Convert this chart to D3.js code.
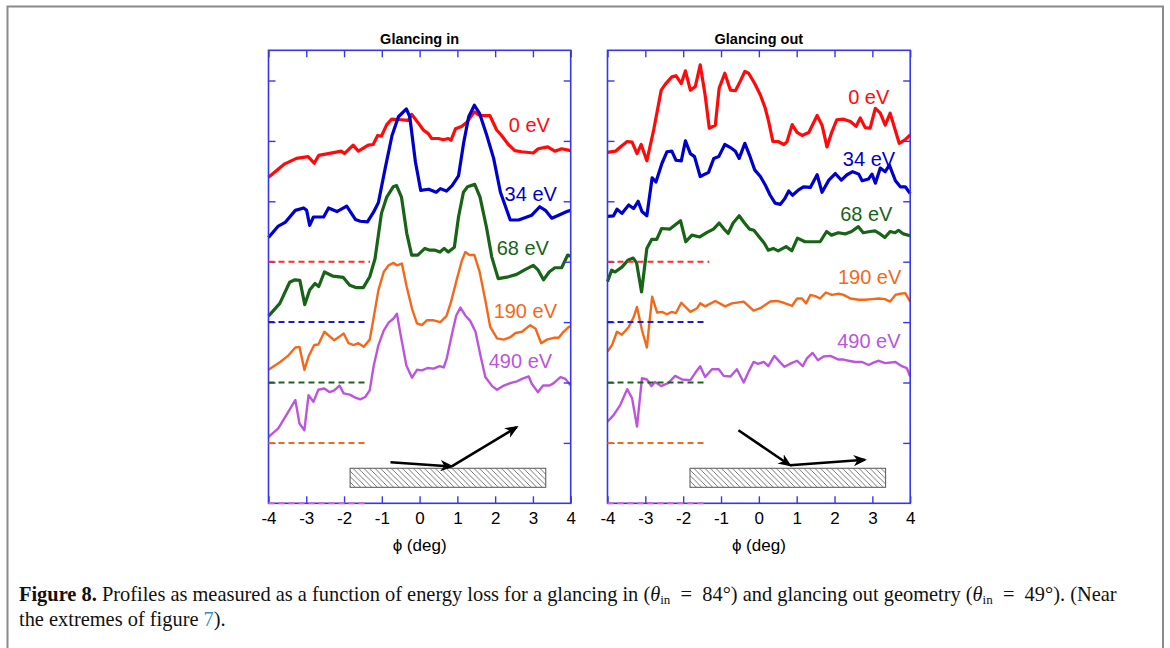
<!DOCTYPE html>
<html><head><meta charset="utf-8">
<script src="https://cdn.jsdelivr.net/npm/d3@7"></script>
<style>
html,body{margin:0;padding:0;background:#fff;}
#wrap{position:relative;width:1170px;height:648px;overflow:hidden;}
#cap{position:absolute;left:19px;top:582px;font-family:"Liberation Serif","DejaVu Serif",serif;font-size:20.4px;line-height:25px;color:#111;white-space:nowrap;}
#cap b{font-weight:bold;}
#cap sub{font-size:13px;vertical-align:-3px;line-height:0;}
#cap .lnk{color:#2f8fd0;}
</style></head>
<body><div id="wrap"><svg id="chart" width="1170" height="648"></svg>
<div id="cap"><b>Figure 8.</b> Profiles as measured as a function of energy loss for a glancing in (<i>θ</i><sub>in</sub> &nbsp;=&nbsp; 84°) and glancing out geometry (<i>θ</i><sub>in</sub> &nbsp;=&nbsp; 49°). (Near<br>the extremes of figure <span class="lnk">7</span>).</div>
</div>
<script>
// ---------- DATA (phi in deg, offset intensity as plotted) ----------
const energies = ["0 eV","34 eV","68 eV","190 eV","490 eV"];
const colors = ["#ff0a0a","#0000cc","#176417","#f4681a","#bb55dd"];
const dashColors = ["#ff2a2a","#1a1acc","#1a641a","#f4681a","#d866cc"];
const baselines = [4,3,2,1,0];
const lineWidths = [3.2,3.2,3.2,2.4,2.4];
const xTicks = [-4,-3,-2,-1,0,1,2,3,4];
const yTicks = [1,2,3,4,5,6,7];
const panelTitles = ["Glancing in","Glancing out"];
const xLabel = "ϕ (deg)";

const inE0 = [[-4.0,5.40],[-3.57,5.62],[-3.26,5.71],[-2.95,5.74],[-2.79,5.63],[-2.67,5.76],[-2.42,5.79],[-2.07,5.83],[-1.99,5.79],[-1.76,5.93],[-1.62,5.83],[-1.36,5.93],[-1.23,5.94],[-1.11,6.09],[-1.01,6.08],[-0.87,6.27],[-0.74,6.36],[-0.48,6.35],[-0.30,6.34],[-0.21,6.44],[-0.05,6.31],[0.10,6.18],[0.23,6.12],[0.32,6.04],[0.50,6.04],[0.63,6.02],[0.76,6.04],[0.83,6.01],[0.95,6.20],[1.11,6.24],[1.25,6.31],[1.45,6.48],[1.60,6.42],[1.86,6.42],[2.04,6.18],[2.17,6.09],[2.35,5.94],[2.52,5.84],[2.70,5.82],[3.01,5.80],[3.14,5.87],[3.39,5.90],[3.58,5.83],[3.76,5.87],[4.0,5.84]];
const inE34 = [[-4.0,4.40],[-3.74,4.59],[-3.56,4.65],[-3.29,4.85],[-3.07,4.89],[-2.99,4.85],[-2.91,4.60],[-2.81,4.74],[-2.54,4.74],[-2.41,4.89],[-2.19,4.83],[-1.93,4.92],[-1.70,4.70],[-1.57,4.67],[-1.38,4.66],[-1.22,4.82],[-1.09,4.98],[-0.91,5.55],[-0.73,6.09],[-0.56,6.40],[-0.35,6.53],[-0.26,6.40],[-0.11,5.65],[0.03,5.18],[0.24,5.20],[0.44,5.15],[0.55,5.21],[0.71,5.17],[0.86,5.26],[1.03,5.42],[1.17,5.98],[1.30,6.40],[1.45,6.59],[1.59,6.45],[1.78,6.09],[1.96,5.71],[2.14,5.15],[2.40,4.69],[2.62,4.69],[2.84,4.74],[2.97,4.77],[3.18,4.91],[3.33,4.85],[3.50,4.72],[3.68,4.77],[3.90,4.83],[4.0,4.85]];
const inE68 = [[-4.0,3.10],[-3.70,3.31],[-3.44,3.66],[-3.30,3.70],[-3.17,3.69],[-3.04,3.29],[-2.91,3.53],[-2.77,3.64],[-2.67,3.59],[-2.52,3.83],[-2.29,3.76],[-2.02,3.74],[-1.85,3.61],[-1.67,3.57],[-1.49,3.57],[-1.32,3.75],[-1.18,4.05],[-1.01,4.80],[-0.87,5.07],[-0.70,5.24],[-0.61,5.26],[-0.48,5.07],[-0.34,4.47],[-0.21,4.11],[-0.05,4.11],[0.14,4.22],[0.27,4.19],[0.41,4.19],[0.54,4.16],[0.65,4.22],[0.76,4.16],[0.92,4.24],[1.03,4.74],[1.16,5.15],[1.27,5.24],[1.46,5.28],[1.60,5.07],[1.77,4.57],[1.91,4.08],[2.08,3.72],[2.35,3.75],[2.57,3.79],[2.79,3.87],[3.01,3.94],[3.14,3.86],[3.28,3.70],[3.43,3.83],[3.58,3.90],[3.76,3.90],[3.92,4.11],[4.0,4.09]];
const inE190 = [[-4.0,2.21],[-3.69,2.34],[-3.47,2.45],[-3.29,2.58],[-3.18,2.59],[-3.05,2.21],[-2.94,2.43],[-2.79,2.62],[-2.68,2.63],[-2.52,2.84],[-2.41,2.78],[-2.26,2.70],[-2.12,2.76],[-2.01,2.81],[-1.88,2.65],[-1.75,2.62],[-1.62,2.65],[-1.48,2.59],[-1.32,2.71],[-1.22,3.06],[-1.09,3.53],[-0.95,3.83],[-0.82,3.94],[-0.69,3.98],[-0.60,3.94],[-0.47,3.97],[-0.34,3.58],[-0.20,3.22],[-0.07,2.98],[0.06,2.95],[0.19,3.03],[0.37,3.03],[0.55,3.00],[0.71,3.10],[0.83,3.33],[0.99,3.72],[1.12,4.02],[1.21,4.16],[1.32,4.11],[1.45,4.11],[1.59,3.83],[1.74,3.36],[1.87,2.92],[2.05,2.73],[2.23,2.71],[2.40,2.75],[2.54,2.82],[2.71,2.84],[2.93,2.95],[3.07,2.89],[3.22,2.65],[3.37,2.71],[3.55,2.74],[3.68,2.74],[3.81,2.84],[3.95,2.92],[4.0,2.93]];
const inE490 = [[-4.0,1.10],[-3.74,1.24],[-3.50,1.49],[-3.29,1.71],[-3.18,1.32],[-3.05,1.21],[-2.94,1.79],[-2.81,1.68],[-2.68,1.88],[-2.52,1.90],[-2.38,1.84],[-2.26,1.87],[-2.12,1.95],[-2.01,1.82],[-1.85,1.80],[-1.70,1.75],[-1.57,1.72],[-1.44,1.76],[-1.32,1.87],[-1.22,2.26],[-1.09,2.62],[-0.95,2.86],[-0.82,2.99],[-0.69,3.06],[-0.60,3.14],[-0.50,2.78],[-0.35,2.28],[-0.20,2.08],[-0.07,2.21],[0.06,2.20],[0.21,2.24],[0.37,2.23],[0.53,2.27],[0.64,2.25],[0.72,2.40],[0.86,2.81],[0.97,3.11],[1.08,3.24],[1.21,3.11],[1.34,3.02],[1.48,2.84],[1.61,2.45],[1.74,2.09],[1.92,1.94],[2.05,1.88],[2.23,1.95],[2.40,1.99],[2.58,2.02],[2.71,2.06],[2.89,2.10],[2.97,1.98],[3.13,1.84],[3.27,1.95],[3.44,1.95],[3.55,1.99],[3.73,2.09],[3.86,2.06],[4.0,1.95]];

const outE0 = [[-4.0,5.81],[-3.79,5.83],[-3.66,5.90],[-3.48,5.99],[-3.35,5.98],[-3.22,5.79],[-3.11,5.94],[-2.96,5.67],[-2.78,6.18],[-2.58,6.84],[-2.47,6.94],[-2.30,7.06],[-2.19,7.08],[-2.05,6.95],[-1.94,7.16],[-1.81,6.84],[-1.68,6.90],[-1.55,7.26],[-1.42,6.76],[-1.31,6.21],[-1.15,6.26],[-1.05,6.87],[-0.90,7.12],[-0.75,6.84],[-0.62,6.83],[-0.49,6.99],[-0.37,7.15],[-0.27,7.12],[-0.11,6.95],[0.04,6.76],[0.17,6.54],[0.26,6.32],[0.37,5.99],[0.51,5.99],[0.66,5.94],[0.74,5.98],[0.88,6.27],[1.01,6.14],[1.14,6.09],[1.32,6.14],[1.54,6.42],[1.67,6.26],[1.80,5.90],[1.93,6.15],[2.06,6.35],[2.24,6.36],[2.42,6.32],[2.57,6.24],[2.68,6.38],[2.81,6.22],[2.94,6.21],[3.08,6.54],[3.21,6.46],[3.34,6.26],[3.47,6.46],[3.59,6.21],[3.71,5.96],[3.87,6.02],[4.0,6.10]];
const outE34 = [[-4.0,4.75],[-3.84,4.76],[-3.75,4.87],[-3.62,4.80],[-3.44,4.94],[-3.31,4.88],[-3.19,5.00],[-3.09,4.83],[-2.96,4.76],[-2.82,5.39],[-2.72,5.32],[-2.56,5.63],[-2.43,5.82],[-2.30,5.83],[-2.19,5.68],[-2.05,5.67],[-1.94,6.00],[-1.81,5.79],[-1.70,5.74],[-1.55,5.41],[-1.33,5.48],[-1.19,5.71],[-1.06,5.74],[-0.90,5.94],[-0.75,5.89],[-0.62,5.83],[-0.52,5.71],[-0.37,5.96],[-0.25,5.77],[-0.11,5.52],[0.04,5.41],[0.17,5.27],[0.30,5.10],[0.43,4.97],[0.57,4.95],[0.68,5.04],[0.79,5.17],[0.89,5.10],[1.05,5.19],[1.18,5.24],[1.36,5.23],[1.54,5.44],[1.67,5.15],[1.85,5.35],[2.02,5.46],[2.18,5.35],[2.33,5.44],[2.48,5.49],[2.64,5.45],[2.73,5.34],[2.90,5.37],[2.99,5.45],[3.08,5.30],[3.21,5.55],[3.34,5.49],[3.45,5.60],[3.61,5.34],[3.74,5.24],[3.87,5.24],[4.0,5.13]];
const outE68 = [[-4.0,3.67],[-3.89,3.86],[-3.80,3.83],[-3.62,3.91],[-3.45,4.03],[-3.32,4.06],[-3.23,3.98],[-3.10,3.50],[-2.96,4.22],[-2.83,4.37],[-2.70,4.37],[-2.57,4.55],[-2.35,4.54],[-2.19,4.62],[-2.07,4.68],[-1.93,4.33],[-1.77,4.44],[-1.56,4.41],[-1.38,4.48],[-1.20,4.54],[-1.05,4.64],[-0.92,4.54],[-0.81,4.47],[-0.68,4.64],[-0.52,4.76],[-0.39,4.65],[-0.25,4.54],[-0.13,4.52],[0.01,4.41],[0.14,4.31],[0.25,4.19],[0.38,4.22],[0.51,4.18],[0.72,4.25],[0.87,4.18],[1.02,4.39],[1.22,4.33],[1.44,4.33],[1.62,4.33],[1.79,4.50],[1.92,4.44],[2.10,4.48],[2.28,4.46],[2.45,4.50],[2.63,4.58],[2.76,4.48],[2.94,4.50],[3.07,4.51],[3.18,4.47],[3.33,4.40],[3.47,4.50],[3.60,4.48],[3.69,4.52],[3.82,4.46],[4.0,4.43]];
const outE190 = [[-4.0,2.51],[-3.88,2.62],[-3.75,2.84],[-3.62,2.79],[-3.44,2.92],[-3.31,3.08],[-3.22,3.25],[-3.09,2.87],[-2.96,2.58],[-2.82,3.42],[-2.69,3.16],[-2.56,3.17],[-2.43,3.13],[-2.30,3.17],[-2.19,3.15],[-2.05,3.32],[-1.81,3.17],[-1.63,3.23],[-1.55,3.31],[-1.42,3.26],[-1.15,3.35],[-0.89,3.26],[-0.71,3.31],[-0.40,3.34],[-0.14,3.19],[0.04,3.23],[0.30,3.34],[0.48,3.35],[0.66,3.32],[0.88,3.27],[1.01,3.39],[1.14,3.39],[1.25,3.31],[1.36,3.45],[1.49,3.43],[1.62,3.39],[1.77,3.49],[1.93,3.45],[2.11,3.47],[2.24,3.45],[2.42,3.39],[2.64,3.37],[2.81,3.37],[2.99,3.38],[3.17,3.39],[3.33,3.38],[3.47,3.34],[3.61,3.45],[3.74,3.47],[3.87,3.48],[4.0,3.34]];
const outE490 = [[-4.0,1.35],[-3.84,1.46],[-3.66,1.63],[-3.48,1.89],[-3.35,1.74],[-3.22,1.27],[-3.09,2.07],[-2.96,2.05],[-2.84,1.94],[-2.74,2.01],[-2.58,1.94],[-2.40,1.99],[-2.21,2.11],[-2.03,2.05],[-1.81,2.04],[-1.68,2.16],[-1.55,2.27],[-1.42,2.09],[-1.24,2.22],[-1.06,2.22],[-0.93,2.11],[-0.75,2.10],[-0.58,2.22],[-0.40,2.00],[-0.27,2.18],[-0.14,2.34],[-0.02,2.31],[0.13,2.34],[0.25,2.27],[0.41,2.44],[0.57,2.33],[0.68,2.26],[0.86,2.32],[1.01,2.36],[1.16,2.27],[1.27,2.40],[1.42,2.49],[1.56,2.37],[1.71,2.43],[1.89,2.44],[2.11,2.38],[2.24,2.38],[2.37,2.36],[2.55,2.34],[2.73,2.34],[2.90,2.29],[3.03,2.33],[3.17,2.36],[3.34,2.32],[3.61,2.34],[3.78,2.27],[3.91,2.24],[4.0,2.10]];

// label anchor positions (phi, value) for the energy labels
const inLabelPos = [[2.36,6.15],[2.25,5.00],[2.04,4.11],[1.96,3.06],[1.83,2.24]];
const outLabelPos = [[2.36,6.61],[2.22,5.59],[2.15,4.67],[2.09,3.63],[2.07,2.57]];
// dashed baseline end (phi)
const inDashEnd = [-1.31,-1.42,-1.40,-1.36,-1.42];
const outDashEnd = [-1.31,-1.42,-1.42,-1.36,-1.42];
// sample sketch: hatched surface [phi0, phi1, yTop, yBottom] and arrow paths
const inSurface = [-1.84,3.34,0.58,0.265];
const outSurface = [-1.82,3.35,0.58,0.265];
const inArrows = [[[-0.77,0.68],[0.85,0.61]],[[0.85,0.61],[2.57,1.26]]];
const outArrows = [[[-0.54,1.21],[0.82,0.63]],[[0.82,0.63],[2.80,0.72]]];

const panels = [
  {title: panelTitles[0], x0: 268.5, x1: 570.7, series:[inE0,inE34,inE68,inE190,inE490], labels: inLabelPos, dashEnd: inDashEnd, surface: inSurface, arrows: inArrows},
  {title: panelTitles[1], x0: 607.5, x1: 910.2, series:[outE0,outE34,outE68,outE190,outE490], labels: outLabelPos, dashEnd: outDashEnd, surface: outSurface, arrows: outArrows}
];

// ---------- DRAW ----------
const svg = d3.select("#chart");
const axisColor = "#3636f2";
const yTop = 50.3, yBot = 503.3;

// outer frame
svg.append("path").attr("d","M7.5,660 L7.5,6.5 L1163,6.5 L1163,660")
  .attr("fill","none").attr("stroke","#8a8a8a").attr("stroke-width",2);

const defs = svg.append("defs");
const pat = defs.append("pattern").attr("id","hatch").attr("patternUnits","userSpaceOnUse")
  .attr("width",5.5).attr("height",5.5);
pat.append("path").attr("d","M-1,-1 L6.5,6.5 M-1,4.5 L1,6.5 M4.5,-1 L6.5,1")
  .attr("stroke","#555").attr("stroke-width",0.8);
defs.append("marker").attr("id","ah").attr("viewBox","0 0 12 10").attr("refX",10).attr("refY",5)
  .attr("markerWidth",5.2).attr("markerHeight",4.4).attr("orient","auto").attr("markerUnits","strokeWidth")
  .append("path").attr("d","M0,0 L12,5 L0,10 L3.5,5 Z").attr("fill","#000");

const font = "'Liberation Sans', Arial, Helvetica, sans-serif";

panels.forEach((p, pi) => {
  const x = d3.scaleLinear().domain([-4,4]).range([p.x0, p.x1]);
  const y = d3.scaleLinear().domain([0,7.5]).range([yBot, yTop]);
  const g = svg.append("g");

  // title
  g.append("text").attr("x",(p.x0+p.x1)/2).attr("y",44).attr("text-anchor","middle")
    .attr("font-family",font).attr("font-weight","bold").attr("font-size",14.5).attr("fill","#000").text(p.title);

  // sample surface sketch
  const s = p.surface;
  g.append("rect").attr("x",x(s[0])).attr("y",y(s[2])).attr("width",x(s[1])-x(s[0])).attr("height",y(s[3])-y(s[2]))
    .attr("fill","url(#hatch)").attr("stroke","#555").attr("stroke-width",1);
  p.arrows.forEach(a => {
    g.append("line").attr("x1",x(a[0][0])).attr("y1",y(a[0][1])).attr("x2",x(a[1][0])).attr("y2",y(a[1][1]))
      .attr("stroke","#000").attr("stroke-width",2.6).attr("marker-end","url(#ah)");
  });

  // curves
  const line = d3.line().x(d=>x(d[0])).y(d=>y(d[1]));
  p.series.forEach((ser,i) => {
    g.append("path").datum(ser).attr("d",line).attr("fill","none")
      .attr("stroke",colors[i]).attr("stroke-width",lineWidths[i]).attr("stroke-linejoin","round").attr("stroke-linecap","butt");
  });

  // labels
  p.labels.forEach((l,i) => {
    g.append("text").attr("x",x(l[0])).attr("y",y(l[1])).attr("font-family",font).attr("font-size",20)
      .attr("fill",colors[i]).text(energies[i]);
  });

  // axes
  const styleAxis = sel => {
    sel.select(".domain").remove();
    sel.selectAll(".tick line").attr("stroke",axisColor).attr("stroke-width",1.4);
    sel.selectAll("text").attr("fill","#000").attr("font-family",font).attr("font-size",17);
  };
  g.append("g").attr("transform",`translate(0,${yBot})`)
    .call(d3.axisBottom(x).tickValues(xTicks).tickSize(-7).tickPadding(8.6).tickFormat(d=>String(d))).call(styleAxis);
  g.append("g").attr("transform",`translate(0,${yTop})`)
    .call(d3.axisTop(x).tickValues(xTicks).tickSize(-7).tickFormat("")).call(styleAxis);
  g.append("g").attr("transform",`translate(${p.x0},0)`)
    .call(d3.axisLeft(y).tickValues(yTicks).tickSize(-7).tickFormat("")).call(styleAxis);
  g.append("g").attr("transform",`translate(${p.x1},0)`)
    .call(d3.axisRight(y).tickValues(yTicks).tickSize(-7).tickFormat("")).call(styleAxis);
  g.append("rect").attr("x",p.x0).attr("y",yTop).attr("width",p.x1-p.x0).attr("height",yBot-yTop)
    .attr("fill","none").attr("stroke",axisColor).attr("stroke-width",1.6);

  // dashed baselines (drawn on top of the frame)
  baselines.forEach((b,i) => {
    g.append("line").attr("x1",x(-4)).attr("x2",x(p.dashEnd[i])).attr("y1",y(b)).attr("y2",y(b))
      .attr("stroke",dashColors[i]).attr("stroke-width",2).attr("stroke-dasharray","6,4");
  });

  // x label
  g.append("text").attr("x",(p.x0+p.x1)/2).attr("y",551).attr("text-anchor","middle")
    .attr("font-family",font).attr("font-size",17).attr("fill","#000").text(xLabel);
});
</script></body></html>
